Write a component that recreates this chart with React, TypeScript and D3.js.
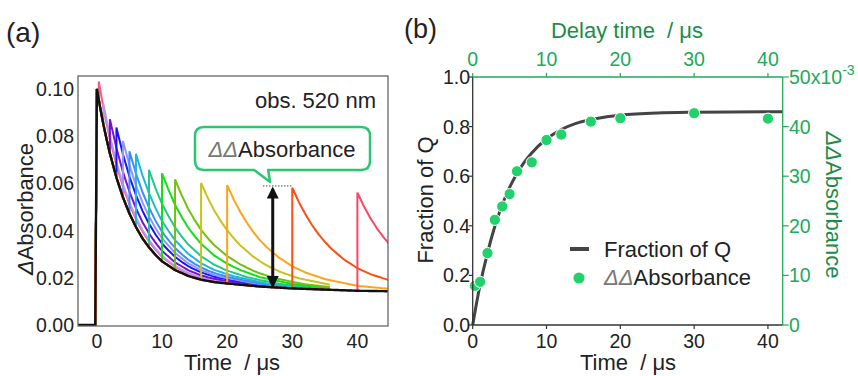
import React from 'react';
import * as d3 from 'd3';

// (a) transient absorption traces, obs. 520 nm
const baseTimes = [-3, -0.05, 0, 0.5, 1, 1.5, 2, 3, 4, 5, 6, 7, 8, 9, 10, 12, 14, 16, 18, 20, 25, 30, 35, 40, 45];
const baseValues = [0, 0, 0.1, 0.0922, 0.085, 0.0786, 0.0727, 0.0625, 0.0541, 0.0472, 0.0415, 0.0367, 0.0329, 0.0297, 0.027, 0.0233, 0.0208, 0.0192, 0.0182, 0.0176, 0.0163, 0.0155, 0.015, 0.0145, 0.0143];

// decay of the second-pulse signal (normalised)
const recoveryOffsets = [0, 1, 2, 3, 4, 5, 6, 8, 10, 12, 15, 20, 25, 30, 35, 45];
const recoveryValues = [1, 0.861, 0.742, 0.639, 0.55, 0.474, 0.408, 0.303, 0.225, 0.167, 0.107, 0.05, 0.024, 0.011, 0.005, 0.001];

// (b) delay times and ddAbsorbance (x10^-3)
const delays = [0.3, 1, 2, 3, 4, 5, 6, 8, 10, 12, 16, 20, 30, 40];
const ddAbs = [7.9, 8.7, 14.5, 21.2, 23.9, 26.4, 31.0, 32.8, 37.3, 38.4, 41.0, 41.7, 42.7, 41.6];
const traceEnds = [36, 36, 36, 36, 36, 36, 36, 36, 36, 36, 36, 46, 46, 46];
const traceColors = ['#ff5585', '#b49af2', '#7a10d6', '#1515ff', '#9494ff', '#3c8cff', '#22b6dc', '#1fc98c',
  '#12e015', '#72c012', '#c9c21a', '#ffa31a', '#ff4d14', '#ff4462'];

// fraction of Q (fit curve)
const fracTimes = [0, 0.5, 1, 2, 3, 4, 5, 6, 7, 8, 10, 12, 14, 16, 18, 20, 25, 30, 35, 42];
const fracValues = [0, 0.085, 0.161, 0.29, 0.398, 0.485, 0.555, 0.611, 0.657, 0.694, 0.75, 0.788, 0.813, 0.828, 0.839, 0.846, 0.855, 0.858, 0.859, 0.86];

const ticksA_x = [0, 10, 20, 30, 40];
const ticksA_y = [0, 0.02, 0.04, 0.06, 0.08, 0.1];
const ticksB_x = [0, 10, 20, 30, 40];
const ticksB_y = [0, 0.2, 0.4, 0.6, 0.8, 1.0];
const ticksB_y2 = [0, 10, 20, 30, 40, 50];

const FONT = '"Liberation Sans", Arial, sans-serif';
const GREEN = '#22a95a';
const DARKGREEN = '#1b8c49';
const DOT = '#22d16c';
const TICK_FS = 19.5;
const TITLE_FS = 22;

export default function App() {
  // left panel scales
  const xA = d3.scaleLinear().domain([-2.9, 44.7]).range([78, 388]);
  const yA = d3.scaleLinear().domain([0, 0.1]).range([325, 89]);
  const frameA = { x0: 78, x1: 388, y0: 76, y1: 326 };

  // right panel scales
  const xB = d3.scaleLinear().domain([0, 42]).range([472.7, 782.7]);
  const yB = d3.scaleLinear().domain([0, 1]).range([325, 77]);
  const yB2 = d3.scaleLinear().domain([0, 50]).range([325, 77]);

  const base = d3.scaleLinear().domain(baseTimes).range(baseValues).clamp(true);
  const recovery = d3.scaleLinear().domain(recoveryOffsets).range(recoveryValues).clamp(true);

  const lineA = d3.line<[number, number]>().x(d => xA(d[0])).y(d => yA(d[1]));

  const traces = delays.map((td, i) => {
    const pts: [number, number][] = [];
    d3.range(-3, td, 0.25).forEach(t => pts.push([t, base(t)]));
    pts.push([td, base(td)]);
    d3.range(td, traceEnds[i], 0.25).forEach(t => pts.push([t, base(t) + ddAbs[i] * 1e-3 * recovery(t - td)]));
    return pts;
  });
  const blackTrace: [number, number][] = d3.range(-3, 46, 0.25).map(t => [t, base(t)]);

  const fracLine = d3.line<number>()
    .x((_, i) => xB(fracTimes[i]))
    .y(d => yB(d))
    .curve(d3.curveMonotoneX);

  // annotation in (a)
  const arrowX = xA(27);
  const arrowTop = yA(0.0585);
  const arrowBottom = yA(0.0158);
  const tipX = xA(26.6);
  const tipY = yA(0.0606);
  const bx0 = 195, bx1 = 370, by0 = 127, by1 = 170, r = 9;
  const calloutPath = `M${bx0 + r},${by0} H${bx1 - r} Q${bx1},${by0} ${bx1},${by0 + r} V${by1 - r} Q${bx1},${by1} ${bx1 - r},${by1}
    H${tipX - 2} L${tipX},${tipY} L${tipX - 16},${by1} H${bx0 + r} Q${bx0},${by1} ${bx0},${by1 - r} V${by0 + r} Q${bx0},${by0} ${bx0 + r},${by0} Z`;

  return (
    <svg width={858} height={376} style={{ position: 'absolute', left: 0, top: 0, background: 'white' }}
      fontFamily={FONT}>
      <defs>
        <clipPath id="clipA">
          <rect x={frameA.x0} y={frameA.y0} width={frameA.x1 - frameA.x0} height={frameA.y1 - frameA.y0} />
        </clipPath>
        <marker id="ah" viewBox="0 0 10 10" refX="8" refY="5" markerWidth="4" markerHeight="4" orient="auto-start-reverse">
          <path d="M0,0 L10,5 L0,10 Z" fill="#111" />
        </marker>
      </defs>

      {/* ---------- panel (a) ---------- */}
      <text x={6} y={42} fontSize={28} fill="#222">(a)</text>
      <g clipPath="url(#clipA)">
        {traces.map((pts, i) => (
          <path key={i} d={lineA(pts) || ''} fill="none" stroke={traceColors[i]} strokeWidth={2} />
        ))}
        <path d={lineA(blackTrace) || ''} fill="none" stroke="#111" strokeWidth={2.4} />
      </g>
      <rect x={frameA.x0} y={frameA.y0} width={frameA.x1 - frameA.x0} height={frameA.y1 - frameA.y0}
        fill="none" stroke="#666" strokeWidth={1.3} />
      {ticksA_y.map(v => (
        <text key={v} x={74} y={yA(v) + 7} fontSize={TICK_FS} textAnchor="end" fill="#222">{d3.format('.2f')(v)}</text>
      ))}
      {ticksA_x.map(v => (
        <text key={v} x={xA(v)} y={348} fontSize={TICK_FS} textAnchor="middle" fill="#222">{v}</text>
      ))}
      <text x={232} y={370} fontSize={TITLE_FS} textAnchor="middle" fill="#222" xmlSpace="preserve">Time  / μs</text>
      <text transform={`translate(33,${209}) rotate(-90)`} fontSize={TITLE_FS} textAnchor="middle" fill="#222">
        <tspan fontStyle="italic">Δ</tspan>Absorbance
      </text>
      <text x={376} y={108} fontSize={22} textAnchor="end" fill="#222">obs. 520 nm</text>

      <path d={calloutPath} fill="white" stroke="#2dc574" strokeWidth={2.5} strokeLinejoin="round" />
      <text x={282} y={157} fontSize={22} textAnchor="middle" fill="#222">
        <tspan fontStyle="italic" fill="#777">ΔΔ</tspan>Absorbance
      </text>
      <line x1={xA(25.5)} x2={xA(30)} y1={arrowTop - 1} y2={arrowTop - 1} stroke="#444" strokeWidth={1} strokeDasharray="1.5,1.5" />
      <line x1={arrowX} x2={arrowX} y1={arrowTop + 2} y2={arrowBottom - 2} stroke="#111" strokeWidth={3}
        markerStart="url(#ah)" markerEnd="url(#ah)" />

      {/* ---------- panel (b) ---------- */}
      <text x={404} y={38} fontSize={27} fill="#222">(b)</text>
      <path d={fracLine(fracValues) || ''} fill="none" stroke="#444" strokeWidth={3} />
      {delays.map((t, i) => (
        <circle key={t} cx={xB(t)} cy={yB2(ddAbs[i])} r={5.6} fill={DOT} stroke="white" strokeWidth={1} />
      ))}

      {/* axes */}
      <line x1={xB.range()[0]} x2={xB.range()[0]} y1={77} y2={325} stroke="#333" strokeWidth={1.3} />
      <line x1={xB.range()[0]} x2={xB.range()[1]} y1={325} y2={325} stroke="#333" strokeWidth={1.3} />
      <line x1={xB.range()[0]} x2={xB.range()[1]} y1={77} y2={77} stroke={GREEN} strokeWidth={1.3} />
      <line x1={xB.range()[1]} x2={xB.range()[1]} y1={77} y2={325} stroke={GREEN} strokeWidth={1.3} />

      {ticksB_y.map(v => (
        <g key={v}>
          <line x1={xB.range()[0] - 4} x2={xB.range()[0]} y1={yB(v)} y2={yB(v)} stroke="#333" strokeWidth={1.2} />
          <text x={470} y={yB(v) + 7} fontSize={TICK_FS} textAnchor="end" fill="#222">{d3.format('.1f')(v)}</text>
        </g>
      ))}
      {ticksB_x.map(v => (
        <g key={v}>
          <line x1={xB(v)} x2={xB(v)} y1={325} y2={329} stroke="#333" strokeWidth={1.2} />
          <text x={xB(v)} y={348} fontSize={TICK_FS} textAnchor="middle" fill="#222">{v}</text>
          <line x1={xB(v)} x2={xB(v)} y1={73} y2={77} stroke={GREEN} strokeWidth={1.2} />
          <text x={xB(v)} y={66} fontSize={TICK_FS} textAnchor="middle" fill={GREEN}>{v}</text>
        </g>
      ))}
      {ticksB_y2.map(v => (
        <g key={v}>
          <line x1={xB.range()[1]} x2={xB.range()[1] + 6} y1={yB2(v)} y2={yB2(v)} stroke={GREEN} strokeWidth={1.2} />
          <text x={789} y={yB2(v) + 7} fontSize={TICK_FS} fill={GREEN}>
            {v === 50 ? <>50x10<tspan dy={-9} fontSize={14}>-3</tspan></> : v}
          </text>
        </g>
      ))}

      <text x={628} y={370} fontSize={TITLE_FS} textAnchor="middle" fill="#222" xmlSpace="preserve">Time  / μs</text>
      <text x={627} y={38} fontSize={TITLE_FS} textAnchor="middle" fill={DARKGREEN} xmlSpace="preserve">Delay time  / μs</text>
      <text transform={`translate(433,${200}) rotate(-90)`} fontSize={TITLE_FS} textAnchor="middle" fill="#222">Fraction of Q</text>
      <text transform={`translate(826,${205}) rotate(90)`} fontSize={TITLE_FS} textAnchor="middle" fill={DARKGREEN}>
        <tspan fontStyle="italic">ΔΔ</tspan>Absorbance
      </text>

      {/* legend */}
      <line x1={570} x2={589} y1={249} y2={249} stroke="#444" strokeWidth={4} />
      <text x={604} y={257} fontSize={22} fill="#222">Fraction of Q</text>
      <circle cx={579} cy={278} r={5.6} fill={DOT} />
      <text x={604} y={285} fontSize={22} fill="#222">
        <tspan fontStyle="italic" fill="#777">ΔΔ</tspan>Absorbance
      </text>
    </svg>
  );
}
